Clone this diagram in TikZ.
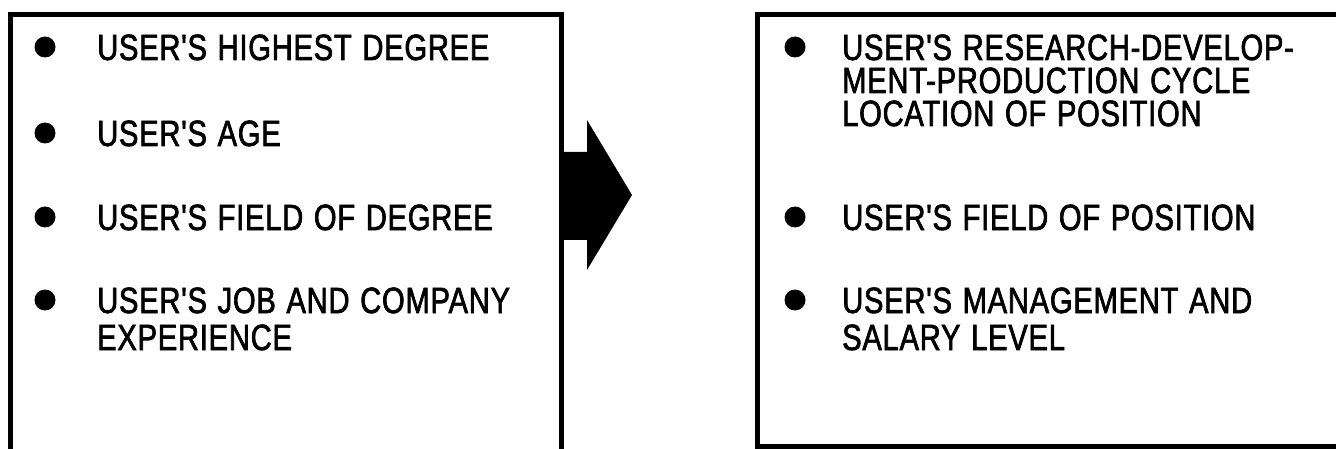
\documentclass[tikz,border=0pt]{standalone}
\usepackage{fontspec}
\newfontfamily\capsfont{Liberation Sans}[FakeStretch=0.8, FakeBold=1.8, WordSpace=1.2, LetterSpace=2]
\tikzset{
  frame/.style={line width=5pt, line cap=butt, line join=miter},
  bul/.style={circle, fill=black, inner sep=0pt, minimum size=21pt},
  txt/.style={anchor=base west, inner sep=0pt, text height=27pt, text depth=1pt,
              font=\capsfont\fontsize{36.5}{40}\selectfont}
}
\begin{document}
\begin{tikzpicture}[x=1pt,y=-1pt]
\useasboundingbox (0,0) rectangle (1336,449);
% left box (open at bottom)
\draw[frame] (10,449) -- (10,15) -- (561,15) -- (561,449);
% right box (open at right)
\draw[frame] (1336,15) -- (757,15) -- (757,446) -- (1336,446);
% arrow
\fill (561,152) -- (587,152) -- (587,120) -- (632,195) -- (587,270) -- (587,240) -- (561,240) -- cycle;
% left items
\node[bul] (lb1) at (45,47) {};
\node[txt] (l1) at (97,60) {USER'S HIGHEST DEGREE};
\node[bul] (lb2) at (45,133) {};
\node[txt] (l2) at (97,146) {USER'S AGE};
\node[bul] (lb3) at (45,217) {};
\node[txt] (l3) at (97,230) {USER'S FIELD OF DEGREE};
\node[bul] (lb4) at (45,300) {};
\node[txt] (l4a) at (97,313) {USER'S JOB AND COMPANY};
\node[txt] (l4b) at (97,350) {EXPERIENCE};
% right items
\node[bul] (rb1) at (795,47) {};
\node[txt] (r1a) at (842,60) {USER'S RESEARCH-DEVELOP-};
\node[txt] (r1b) at (842,93) {MENT-PRODUCTION CYCLE};
\node[txt] (r1c) at (842,126) {LOCATION OF POSITION};
\node[bul] (rb2) at (795,217) {};
\node[txt] (r2) at (842,230) {USER'S FIELD OF POSITION};
\node[bul] (rb3) at (795,300) {};
\node[txt] (r3a) at (842,313) {USER'S MANAGEMENT AND};
\node[txt] (r3b) at (842,350) {SALARY LEVEL};
\end{tikzpicture}
\end{document}
